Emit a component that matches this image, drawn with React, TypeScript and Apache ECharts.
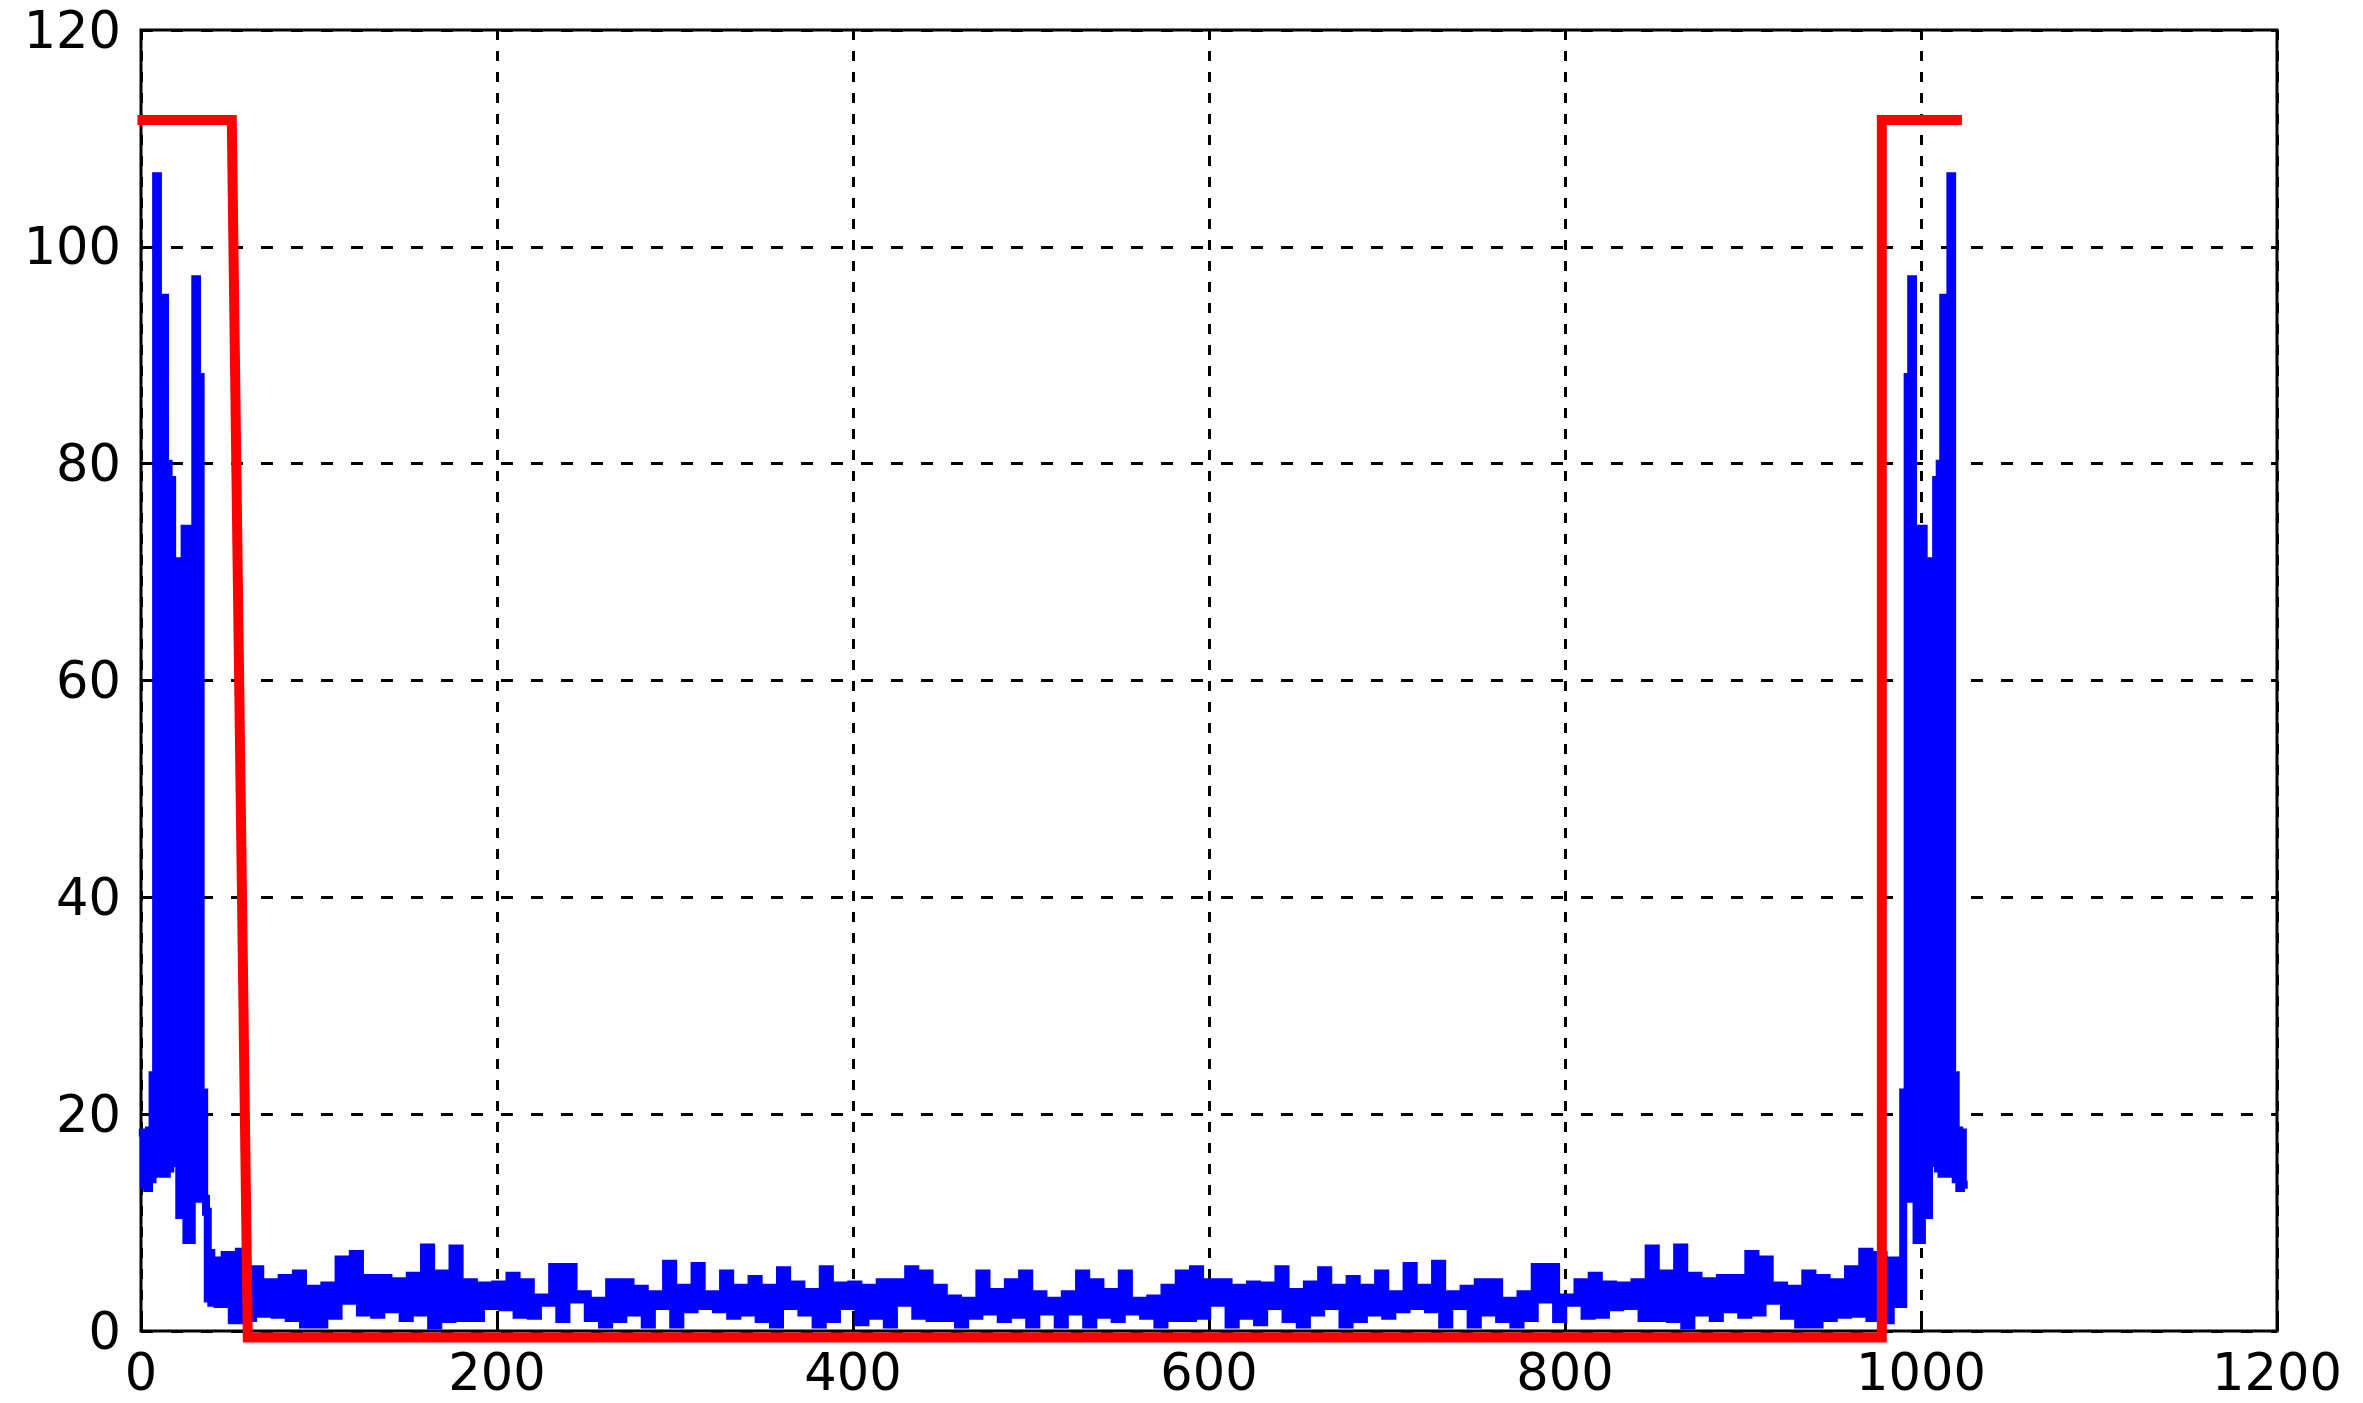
import React, { useEffect, useRef } from "react";
import * as echarts from "echarts";

// Axis ranges
const xMin = 0;
const xMax = 1200;
const xStep = 200;
const yMin = 0;
const yMax = 120;
const yStep = 20;

// Left spectral peak: high values at x = 1,3,...,39, low values at x+1
const leftPeakHi = [18.3, 18.3, 18.5, 23.6, 106.5, 85, 95.3, 80, 78.5, 71, 71, 68, 74, 74, 60, 97, 88, 22, 11, 7.2];
const leftPeakLo = [13.5, 13.2, 14, 14.5, 14.5, 14.5, 14.5, 15, 15.5, 15.5, 10.7, 10.7, 8.4, 8.4, 12.2, 12.2, 12.2, 12.2, 3, 2.6];

// Noise floor: high values at x = 41 + 8i, low values at x + 4
const noiseHi = [
  6.5, 7.0, 7.3, 5.7, 4.5, 4.9, 5.3, 3.9, 4.2, 6.6,
  7.1, 4.9, 4.9, 4.6, 5.1, 7.7, 5.3, 7.6, 4.5, 4.2,
  4.3, 5.1, 4.5, 3.1, 5.9, 5.9, 3.4, 2.8, 4.5, 4.5,
  3.9, 3.4, 6.2, 4.0, 6.0, 3.4, 5.3, 4.0, 4.8, 4.0,
  5.6, 4.3, 3.6, 5.7, 4.2, 4.3, 4.0, 4.5, 4.5, 5.7,
  5.3, 4.0, 3.0, 2.8, 5.3, 3.6, 4.5, 5.3, 3.4, 2.8,
  3.4, 5.3, 4.5, 3.6, 5.3, 2.8, 3.0, 4.0, 5.3,
  5.7, 4.5, 4.5, 4.0, 4.3, 4.2, 5.7, 3.6, 4.3, 5.6,
  4.0, 4.8, 4.0, 5.3, 3.4, 6.0, 4.0, 6.2, 3.4, 3.9,
  4.5, 4.5, 2.8, 3.4, 5.9, 5.9, 3.1, 4.5, 5.1, 4.3,
  4.2, 4.5, 7.6, 5.3, 7.7, 5.1, 4.6, 4.9, 4.9, 7.1,
  6.6, 4.2, 3.9, 5.3, 4.9, 4.5, 5.7, 7.3, 7.0, 6.5,
];
const noiseLo = [
  2.5, 1.0, 1.2, 1.6, 1.5, 1.2, 0.6, 0.6, 1.4, 2.8,
  1.7, 1.5, 2.0, 1.2, 1.7, 0.5, 1.1, 1.2, 1.2, 2.3,
  2.2, 1.5, 1.4, 2.6, 1.1, 2.9, 1.2, 0.6, 1.1, 1.7,
  0.6, 2.3, 0.6, 2.0, 2.3, 2.0, 1.4, 1.7, 1.1, 0.6,
  2.3, 1.7, 0.6, 1.1, 2.3, 0.8, 1.4, 0.6, 2.6, 1.4,
  1.2, 1.2, 0.6, 1.4, 1.8, 1.1, 1.5, 0.6, 1.8, 0.6,
  1.8, 0.6, 1.5, 1.1, 1.8, 1.4, 0.6, 1.2, 1.2,
  1.4, 2.6, 0.6, 1.4, 0.8, 2.3, 1.1, 0.6, 1.7, 2.3,
  0.6, 1.1, 1.7, 1.4, 2.0, 2.3, 2.0, 0.6, 2.3, 0.6,
  1.7, 1.1, 0.6, 1.2, 2.9, 1.1, 2.6, 1.4, 1.5, 2.2,
  2.3, 1.2, 1.2, 1.1, 0.5, 1.7, 1.2, 2.0, 1.5, 1.7,
  2.8, 1.4, 0.6, 0.6, 1.2, 1.5, 1.6, 1.2, 1.0, 2.5,
];

// Right spectral peak: high values at x = 991,993,...,1023, low values at x+1
const rightPeakHi = [22, 88, 97, 60, 74, 74, 68, 71, 71, 78.5, 80, 95.3, 85, 106.5, 23.6, 18.5, 18.3];
const rightPeakLo = [12.2, 12.2, 12.2, 8.4, 8.4, 10.7, 10.7, 15.5, 15.5, 15, 14.5, 14.5, 14.5, 14.5, 14, 13.2, 13.5];

// Red filter mask
const maskX = [-2, 51, 60, 978, 978, 1023];
const maskY = [111.7, 111.7, -0.6, -0.6, 111.7, 111.7];

function buildSignal(): number[][] {
  const pts: number[][] = [];
  leftPeakHi.forEach((h, i) => {
    const x = 1 + 2 * i;
    pts.push([x, h]);
    pts.push([x + 1, leftPeakLo[i]]);
  });
  noiseHi.forEach((h, i) => {
    const x = 41 + 8 * i;
    pts.push([x, h]);
    pts.push([x + 4, noiseLo[i]]);
  });
  rightPeakHi.forEach((h, i) => {
    const x = 991 + 2 * i;
    pts.push([x, h]);
    pts.push([x + 1, rightPeakLo[i]]);
  });
  return pts;
}

export default function App() {
  const ref = useRef<HTMLDivElement>(null);
  useEffect(() => {
    if (!ref.current) return;
    const chart = echarts.init(ref.current, undefined, { renderer: "svg" });
    const font = "DejaVu Sans";
    chart.setOption({
      animation: false,
      backgroundColor: "#ffffff",
      textStyle: { fontFamily: font },
      grid: {
        left: 141,
        right: 86,
        top: 30,
        bottom: 72,
        show: true,
        borderColor: "#000",
        borderWidth: 3,
        backgroundColor: "transparent",
      },
      xAxis: {
        type: "value",
        min: xMin,
        max: xMax,
        interval: xStep,
        axisLine: { show: false },
        axisTick: { show: true, inside: true, length: 12, lineStyle: { color: "#000", width: 3 } },
        axisLabel: {
          color: "#000",
          fontSize: 51,
          fontFamily: font,
          margin: 16,
          formatter: (v: number) => String(v),
        },
        splitLine: { show: true, lineStyle: { color: "#000", width: 3, type: [10, 11] } },
      },
      yAxis: {
        type: "value",
        min: yMin,
        max: yMax,
        interval: yStep,
        axisLine: { show: false },
        axisTick: { show: true, inside: true, length: 12, lineStyle: { color: "#000", width: 3 } },
        axisLabel: {
          color: "#000",
          fontSize: 51,
          fontFamily: font,
          margin: 20,
          formatter: (v: number) => String(v),
        },
        splitLine: { show: true, lineStyle: { color: "#000", width: 3, type: [12, 18] } },
      },
      series: [
        {
          type: "line",
          data: buildSignal(),
          step: "middle",
          showSymbol: false,
          silent: true,
          lineStyle: { color: "#0000ff", width: 8, join: "miter", cap: "square" },
          z: 2,
        },
        {
          type: "line",
          data: maskX.map((x, i) => [x, maskY[i]]),
          showSymbol: false,
          silent: true,
          clip: false,
          lineStyle: { color: "#ff0000", width: 10, join: "miter", cap: "butt" },
          z: 3,
        },
      ],
    });
    return () => chart.dispose();
  }, []);
  return (
    <div
      ref={ref}
      style={{ position: "fixed", left: 0, top: 0, width: 2363, height: 1403, background: "#fff" }}
    />
  );
}
